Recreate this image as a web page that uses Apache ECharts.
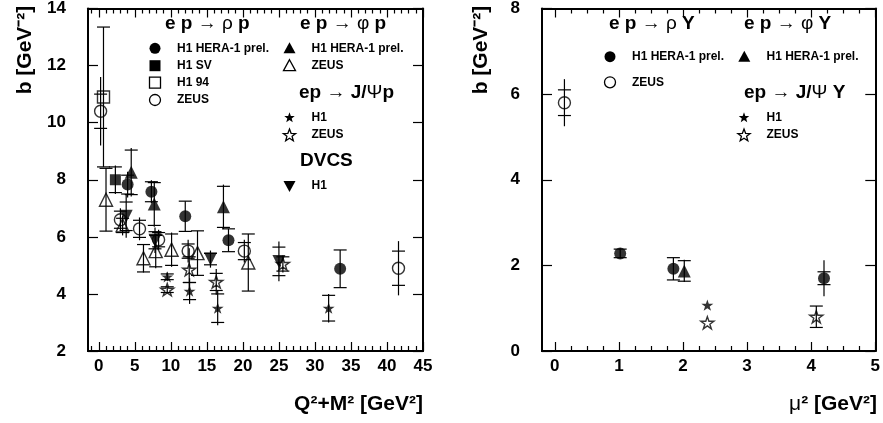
<!DOCTYPE html>
<html>
<head>
<meta charset="utf-8">
<script src="https://cdn.jsdelivr.net/npm/echarts@6/dist/echarts.min.js"></script>
<style>
  html, body { margin: 0; padding: 0; background: #fff; }
  #chart { width: 883px; height: 423px; }
</style>
</head>
<body>
<div id="chart"></div>
<script>
// each point: [x, b, stat error, total error]
// left panel: b vs Q^2+M^2
var rhoH1 = [[4.0, 7.83, 0.33, 0.45], [7.3, 7.58, 0.35, 0.4], [12.0, 6.72, 0.53, 0.53], [18.0, 5.88, 0.4, 0.4], [33.5, 4.88, 0.66, 0.66]];
var rhoH1SV = [[2.3, 8.0, 0.45, 0.5]];
var rhoH194 = [[0.65, 10.9, 2.45, 2.45]];
var rhoZEUS = [[0.25, 10.4, 0.6, 1.2], [3.0, 6.6, 0.3, 0.4], [5.65, 6.28, 0.3, 0.4], [8.3, 5.9, 0.25, 0.35], [12.4, 5.5, 0.25, 0.4], [20.2, 5.5, 0.3, 0.4], [41.6, 4.9, 0.6, 0.95]];
var phiH1 = [[4.5, 8.26, 0.78, 0.85], [7.7, 7.15, 0.75, 0.8], [17.3, 7.05, 0.72, 0.78]];
var phiZEUS = [[1.0, 7.3, 1.1, 1.1], [3.3, 6.4, 0.25, 0.35], [6.2, 5.25, 0.48, 0.5], [7.9, 5.5, 0.55, 0.6], [10.1, 5.55, 0.55, 0.6], [13.7, 5.43, 0.78, 0.78], [20.75, 5.1, 1.0, 1.0]];
var jpsiH1 = [[9.5, 4.6, 0.1, 0.15], [12.6, 4.1, 0.3, 0.45], [16.5, 3.5, 0.5, 0.6], [31.9, 3.5, 0.45, 0.5]];
var jpsiZEUS = [[9.5, 4.15, 0.1, 0.1], [12.55, 4.85, 0.45, 0.75], [16.3, 4.42, 0.3, 0.45], [25.55, 5.05, 0.25, 0.3]];
var dvcsH1 = [[3.8, 6.72, 0.5, 0.75], [7.8, 5.88, 0.3, 0.45], [15.5, 5.22, 0.2, 0.3], [25.0, 5.14, 0.5, 0.7]];

// right panel: b vs mu^2
var rhoYH1 = [[1.02, 2.28, 0.1, 0.12], [1.85, 1.92, 0.26, 0.26], [4.2, 1.7, 0.15, 0.42]];
var rhoYZEUS = [[0.15, 5.8, 0.3, 0.55]];
var phiYH1 = [[2.02, 1.87, 0.24, 0.26]];
var jpsiYH1 = [[2.38, 1.07, 0, 0]];
var jpsiYZEUS = [[2.38, 0.66, 0, 0], [4.08, 0.8, 0.25, 0.25]];

// ticks
var xTicksL = [0, 5, 10, 15, 20, 25, 30, 35, 40, 45];
var xTicksR = [0, 1, 2, 3, 4, 5];
var xMinorL = [];
for (var i = -1; i <= 44; i++) { if (i % 5 !== 0) xMinorL.push(i); }
var xMinorR = [];
for (var j = 0; j < 20; j++) { if (j % 4 !== 0) xMinorR.push(j / 4); }

var F = '"Liberation Sans", Arial, Helvetica, sans-serif';
var STAR = 'path://M50,0 L61.8,35.1 L98.9,35.1 L68.9,56.8 L80.3,91.9 L50,70.2 L19.7,91.9 L31.1,56.8 L1.1,35.1 L38.2,35.1 Z';

var myChart = echarts.init(document.getElementById('chart'));

function errBars(params, api) {
    var x = api.value(0), y = api.value(1), s = api.value(2), t = api.value(3);
    var st = {stroke: '#000', lineWidth: 1.2};
    var kids = [];
    if (t > 0) {
        var a = api.coord([x, y + t]), b = api.coord([x, y - t]);
        kids.push({type: 'line', shape: {x1: a[0], y1: a[1], x2: b[0], y2: b[1]}, style: st});
    }
    if (s > 0) {
        [y + s, y - s].forEach(function (v) {
            var p = api.coord([x, v]);
            kids.push({type: 'line', shape: {x1: p[0] - 6.5, y1: p[1], x2: p[0] + 6.5, y2: p[1]}, style: st});
        });
    }
    return {type: 'group', children: kids};
}

var series = [];
function addSet(data, grid, symbol, size, open, rotate) {
    series.push({
        type: 'custom', xAxisIndex: grid * 4, yAxisIndex: grid * 2,
        renderItem: errBars, data: data, z: 2, silent: true
    });
    series.push({
        type: 'scatter', xAxisIndex: grid * 4, yAxisIndex: grid * 2,
        data: data.map(function (d) { return [d[0], d[1]]; }),
        symbol: symbol, symbolSize: size, symbolRotate: rotate || 0, symbolKeepAspect: true,
        itemStyle: open ? {color: 'rgba(0,0,0,0)', borderColor: '#000', borderWidth: 1.4} : {color: '#000'},
        z: 3, silent: true
    });
}
addSet(rhoH1, 0, 'circle', 12, false);
addSet(rhoH1SV, 0, 'rect', 11, false);
addSet(rhoH194, 0, 'rect', 12, true);
addSet(rhoZEUS, 0, 'circle', 12, true);
addSet(phiH1, 0, 'triangle', 13, false);
addSet(phiZEUS, 0, 'triangle', 13, true);
addSet(jpsiH1, 0, STAR, 12, false);
addSet(jpsiZEUS, 0, STAR, 13, true);
addSet(dvcsH1, 0, 'triangle', 13, false, 180);
addSet(rhoYH1, 1, 'circle', 12, false);
addSet(rhoYZEUS, 1, 'circle', 12, true);
addSet(phiYH1, 1, 'triangle', 13, false);
addSet(jpsiYH1, 1, STAR, 12, false);
addSet(jpsiYZEUS, 1, STAR, 13, true);

var lineSt = {show: true, onZero: false, lineStyle: {color: '#000', width: 2}};
function xAxes(grid, min, max, major, minor) {
    function ax(pos, vals, len, labels) {
        return {
            type: 'value', gridIndex: grid, position: pos, min: min, max: max,
            axisLine: lineSt, splitLine: {show: false},
            axisTick: {show: true, inside: true, length: len, customValues: vals, lineStyle: {color: '#000', width: 1.2}},
            axisLabel: labels ? {show: true, customValues: major, margin: 7, color: '#000',
                fontFamily: F, fontWeight: 'bold', fontSize: 17} : {show: false}
        };
    }
    return [ax('bottom', major, 9, true), ax('bottom', minor, 5, false), ax('top', major, 9, false), ax('top', minor, 5, false)];
}
function yAxes(grid, min, max) {
    function ax(pos, labels) {
        return {
            type: 'value', gridIndex: grid, position: pos, min: min, max: max, interval: 2,
            axisLine: lineSt, splitLine: {show: false},
            axisTick: {show: true, inside: true, length: 10, lineStyle: {color: '#000', width: 1.2}},
            axisLabel: labels ? {show: true, margin: 22, color: '#000', fontFamily: F, fontWeight: 'bold', fontSize: 17} : {show: false}
        };
    }
    return [ax('left', true), ax('right', false)];
}

// legend / annotation helpers
function txt(x, y, text, size, align) {
    return {type: 'text', x: x, y: y, style: {text: text, fontFamily: F, fontWeight: 'bold', fontSize: size || 12,
        fill: '#000', textVerticalAlign: 'middle', textAlign: align || 'left'}};
}
function rich(x, y, text, size) {
    return {type: 'text', x: x, y: y, style: {text: text, fill: '#000', textVerticalAlign: 'middle',
        rich: {b: {fontFamily: F, fontWeight: 'bold', fontSize: size, fill: '#000'},
               n: {fontFamily: F, fontSize: size, fill: '#000'}}}};
}
function starPts(cx, cy, R) {
    var pts = [];
    for (var k = 0; k < 10; k++) {
        var r = k % 2 ? R * 0.42 : R;
        var ang = -Math.PI / 2 + k * Math.PI / 5;
        pts.push([cx + r * Math.cos(ang), cy + r * Math.sin(ang)]);
    }
    return pts;
}
function mark(kind, cx, cy, open) {
    var st = open ? {fill: 'none', stroke: '#000', lineWidth: 1.3} : {fill: '#000'};
    if (kind === 'circle') return {type: 'circle', shape: {cx: cx, cy: cy, r: 5.5}, style: st};
    if (kind === 'rect') return {type: 'rect', shape: {x: cx - 5.5, y: cy - 5.5, width: 11, height: 11}, style: st};
    if (kind === 'tri') return {type: 'polygon', shape: {points: [[cx, cy - 6], [cx + 6, cy + 5], [cx - 6, cy + 5]]}, style: st};
    if (kind === 'itri') return {type: 'polygon', shape: {points: [[cx, cy + 6], [cx + 6, cy - 5], [cx - 6, cy - 5]]}, style: st};
    return {type: 'polygon', shape: {points: starPts(cx, cy + 0.5, open ? 6.5 : 5.5)}, style: st};
}

var graphics = [
    // axis titles
    {type: 'text', x: 25, y: 50, rotation: Math.PI / 2, style: {text: 'b [GeV⁻²]', fontFamily: F, fontWeight: 'bold',
        fontSize: 21, fill: '#000', textAlign: 'center', textVerticalAlign: 'middle'}},
    {type: 'text', x: 481, y: 50, rotation: Math.PI / 2, style: {text: 'b [GeV⁻²]', fontFamily: F, fontWeight: 'bold',
        fontSize: 21, fill: '#000', textAlign: 'center', textVerticalAlign: 'middle'}},
    txt(423, 404, 'Q²+M² [GeV²]', 21, 'right'),
    {type: 'text', x: 877, y: 404, style: {text: '{n|μ}{b|² [GeV²]}', fill: '#000', textAlign: 'right', textVerticalAlign: 'middle',
        rich: {b: {fontFamily: F, fontWeight: 'bold', fontSize: 21, fill: '#000'}, n: {fontFamily: F, fontSize: 21, fill: '#000'}}}},

    // left panel legend
    rich(165, 24, '{b|e p }{n|→ ρ }{b|p}', 19),
    rich(300, 24, '{b|e p }{n|→ φ }{b|p}', 19),
    mark('circle', 155, 48.3, false), txt(177, 48.3, 'H1 HERA-1 prel.'),
    mark('rect', 155, 65.7, false), txt(177, 65.7, 'H1 SV'),
    mark('rect', 155, 82.7, true), txt(177, 82.7, 'H1 94'),
    mark('circle', 155, 100, true), txt(177, 100, 'ZEUS'),
    mark('tri', 289.5, 48.3, false), txt(311.5, 48.3, 'H1 HERA-1 prel.'),
    mark('tri', 289.5, 65.7, true), txt(311.5, 65.7, 'ZEUS'),
    rich(299, 92.7, '{b|ep }{n|→ }{b|J/}{n|Ψ}{b|p}', 19),
    mark('star', 289.5, 117.3, false), txt(311.5, 117.3, 'H1'),
    mark('star', 289.5, 135, true), txt(311.5, 135, 'ZEUS'),
    txt(300, 161, 'DVCS', 19),
    mark('itri', 289.5, 186, false), txt(311.5, 186, 'H1'),

    // right panel legend
    rich(609, 24, '{b|e p }{n|→ ρ }{b|Y}', 19),
    rich(744, 24, '{b|e p }{n|→ φ }{b|Y}', 19),
    mark('circle', 610, 56.7, false), txt(632, 56.7, 'H1 HERA-1 prel.'),
    mark('tri', 744.3, 56.7, false), txt(766.5, 56.7, 'H1 HERA-1 prel.'),
    mark('circle', 610, 82.3, true), txt(632, 82.3, 'ZEUS'),
    rich(744, 92.7, '{b|ep }{n|→ }{b|J/}{n|Ψ}{b| Y}', 19),
    mark('star', 744, 117.3, false), txt(766.5, 117.3, 'H1'),
    mark('star', 744, 135, true), txt(766.5, 135, 'ZEUS')
];

var option = {
    animation: false,
    backgroundColor: '#fff',
    grid: [
        {left: 88, top: 5, width: 335, height: 346},
        {left: 542, top: 5, width: 336, height: 346}
    ],
    xAxis: xAxes(0, -1.5, 45, xTicksL, xMinorL).concat(xAxes(1, -0.2, 5, xTicksR, xMinorR)),
    yAxis: yAxes(0, 2, 14).concat(yAxes(1, 0, 8)),
    graphic: {elements: graphics},
    series: series
};
myChart.setOption(option);
</script>
</body>
</html>
